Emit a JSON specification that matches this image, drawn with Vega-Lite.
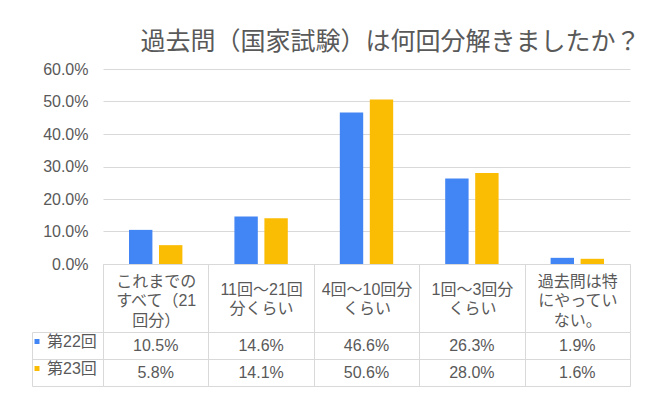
{
  "$schema": "https://vega.github.io/schema/vega-lite/v6.json",
  "background": "white",
  "padding": {"left": 29, "top": 30, "right": 12, "bottom": 10},
  "title": {
    "text": "過去問（国家試験）は何回分解きましたか？",
    "fontSize": 25,
    "fontWeight": "normal",
    "color": "#595959",
    "anchor": "end",
    "dx": 10,
    "offset": 6
  },
  "datasets": {
    "answers": [
      {"category": "これまでの|すべて（21|回分）", "series": "第22回", "value": 0.105},
      {"category": "これまでの|すべて（21|回分）", "series": "第23回", "value": 0.058},
      {"category": "11回～21回|分くらい", "series": "第22回", "value": 0.146},
      {"category": "11回～21回|分くらい", "series": "第23回", "value": 0.141},
      {"category": "4回～10回分|くらい", "series": "第22回", "value": 0.466},
      {"category": "4回～10回分|くらい", "series": "第23回", "value": 0.506},
      {"category": "1回～3回分|くらい", "series": "第22回", "value": 0.263},
      {"category": "1回～3回分|くらい", "series": "第23回", "value": 0.28},
      {"category": "過去問は特|にやってい|ない。", "series": "第22回", "value": 0.019},
      {"category": "過去問は特|にやってい|ない。", "series": "第23回", "value": 0.016}
    ]
  },
  "bounds": "flush",
  "spacing": 68,
  "vconcat": [
    {
      "width": 527,
      "height": 195,
      "data": {"name": "answers"},
      "mark": {"type": "bar"},
      "encoding": {
        "x": {
          "field": "category",
          "type": "nominal",
          "sort": ["これまでの|すべて（21|回分）", "11回～21回|分くらい", "4回～10回分|くらい", "1回～3回分|くらい", "過去問は特|にやってい|ない。"],
          "scale": {"paddingInner": 0, "paddingOuter": 0},
          "axis": {
            "title": null,
            "labelAngle": 0,
            "labelExpr": "split(datum.label, '|')",
            "labelBaseline": "middle",
            "labelPadding": {"condition": {"test": "length(split(datum.label, '|')) == 3", "value": -51}, "value": -43},
            "labelLineHeight": 19.5,
            "labelLimit": 0,
            "tickBand": "extent",
            "tickSize": 68,
            "grid": false
          }
        },
        "xOffset": {
          "field": "series",
          "type": "nominal",
          "sort": ["第22回", "第23回"],
          "scale": {"paddingInner": 0.22, "paddingOuter": 0.867}
        },
        "y": {
          "field": "value",
          "type": "quantitative",
          "scale": {"domain": [0, 0.6]},
          "axis": {
            "title": null,
            "values": [0, 0.1, 0.2, 0.3, 0.4, 0.5, 0.6],
            "format": ".1%",
            "domain": false,
            "ticks": false,
            "labelPadding": 15,
            "grid": true
          }
        },
        "color": {
          "field": "series",
          "type": "nominal",
          "scale": {"domain": ["第22回", "第23回"], "range": ["#4285F4", "#FBBC04"]},
          "legend": {
            "title": null,
            "orient": "none",
            "legendX": -74,
            "legendY": 264.5,
            "direction": "vertical",
            "symbolType": "square",
            "symbolSize": 25,
            "symbolStrokeWidth": 0,
            "labelFontSize": 16,
            "labelColor": "#595959",
            "labelOffset": 2,
            "rowPadding": 11,
            "padding": 0
          }
        }
      }
    },
    {
      "width": 527,
      "height": 54,
      "data": {"name": "answers"},
      "mark": {"type": "text", "fontSize": 16, "color": "#595959"},
      "encoding": {
        "x": {
          "field": "category",
          "type": "nominal",
          "sort": ["これまでの|すべて（21|回分）", "11回～21回|分くらい", "4回～10回分|くらい", "1回～3回分|くらい", "過去問は特|にやってい|ない。"],
          "scale": {"paddingInner": 0, "paddingOuter": 0},
          "axis": {
            "title": null,
            "labels": false,
            "ticks": false,
            "domain": false,
            "grid": true,
            "tickBand": "extent"
          }
        },
        "y": {
          "field": "series",
          "type": "nominal",
          "sort": ["第22回", "第23回"],
          "scale": {"paddingInner": 0, "paddingOuter": 0},
          "axis": {
            "title": null,
            "labels": false,
            "grid": true,
            "tickBand": "extent",
            "offset": 71,
            "tickSize": -71
          }
        },
        "text": {"field": "value", "type": "quantitative", "format": ".1%"}
      }
    }
  ],
  "config": {
    "font": "Liberation Sans, Noto Sans CJK JP, sans-serif",
    "view": {"stroke": null},
    "axis": {
      "labelFont": "Liberation Sans, Noto Sans CJK JP, sans-serif",
      "labelFontSize": 16,
      "labelColor": "#595959",
      "gridColor": "#d9d9d9",
      "domainColor": "#d9d9d9",
      "tickColor": "#d9d9d9"
    },
    "legend": {"labelFont": "Liberation Sans, Noto Sans CJK JP, sans-serif"},
    "title": {"font": "Noto Sans CJK JP, sans-serif"}
  }
}
